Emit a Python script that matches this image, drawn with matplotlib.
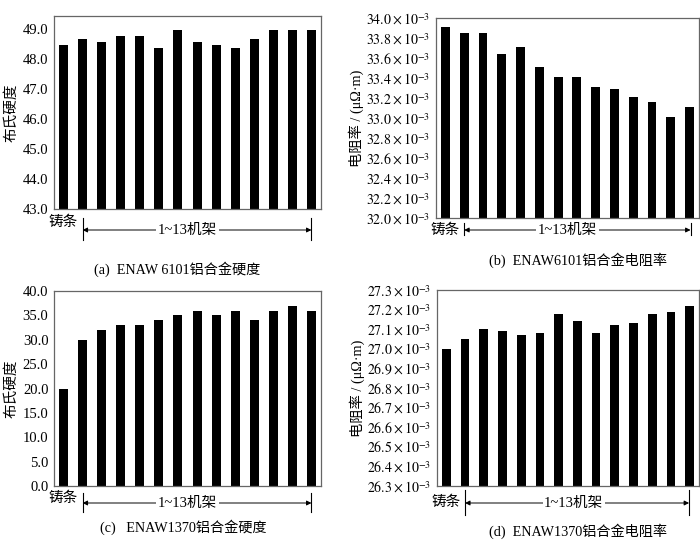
import numpy as np
import matplotlib
matplotlib.use('Agg')
import matplotlib.pyplot as plt
from matplotlib.transforms import blended_transform_factory

plt.rcParams['font.family'] = ['Liberation Serif', 'Noto Sans CJK SC']
plt.rcParams['mathtext.fontset'] = 'stix'
plt.rcParams['font.size'] = 10

# Data
stands = np.arange(14)   # 0 = 铸条, 1..13 = 机架
hard_6101 = [48.45, 48.65, 48.55, 48.75, 48.75, 48.35, 48.95,
             48.55, 48.45, 48.35, 48.65, 48.95, 48.95, 48.95]
res_6101 = [33.91, 33.85, 33.85, 33.64, 33.71, 33.51, 33.41,
            33.41, 33.31, 33.29, 33.21, 33.16, 33.01, 33.11]
hard_1370 = [20.0, 30.0, 32.0, 33.0, 33.0, 34.0, 35.0,
             36.0, 35.0, 36.0, 34.0, 36.0, 37.0, 36.0]
res_1370 = [27.00, 27.05, 27.10, 27.09, 27.07, 27.08, 27.18,
            27.14, 27.08, 27.12, 27.13, 27.18, 27.19, 27.22]

captions = ['(a)  ENAW 6101铝合金硬度', '(b)  ENAW6101铝合金电阻率',
            '(c)   ENAW1370铝合金硬度', '(d)  ENAW1370铝合金电阻率']

W, H = 700, 541
fig = plt.figure(figsize=(W / 100, H / 100), dpi=100)


def px_axes(l, r, t, b):
    return fig.add_axes([l / W, 1 - b / H, (r - l) / W, (b - t) / H])


def style(ax, tsize):
    for s in ax.spines.values():
        s.set_color('#666666')
        s.set_linewidth(0.9)
    ax.tick_params(length=0, pad=4, labelsize=tsize)
    ax.set_xticks([])
    ax.set_xlim(-0.5, 13.5)


def bracket(ax, lab_dy, v_top, v_bot, arr_dy, x_right, x_text):
    hpx = ax.get_position().height * H
    f = lambda dy: -dy / hpx
    tr = blended_transform_factory(ax.transData, ax.transAxes)
    ax.text(0, f(lab_dy), '铸条', transform=tr, ha='center', va='center',
            fontsize=10.5)
    for xv in (1, x_right):
        ax.plot([xv, xv], [f(v_top), f(v_bot)], color='black', lw=0.8,
                transform=tr, clip_on=False)
    ax.annotate('', xy=(x_right, f(arr_dy)), xytext=(1, f(arr_dy)),
                xycoords=tr, textcoords=tr,
                arrowprops=dict(arrowstyle='<|-|>', color='black', lw=0.7,
                                mutation_scale=7, shrinkA=0, shrinkB=0))
    ax.text(x_text, f(arr_dy), '1~13机架', transform=tr, ha='center',
            va='center', fontsize=10.5,
            bbox=dict(facecolor='white', edgecolor='none', pad=1))


def sci(vals):
    return [r'$%.1f\times10^{-3}$' % v for v in vals]


# (a)
ax = px_axes(54, 321, 16, 209)
ax.bar(stands, hard_6101, width=0.47, color='black')
ax.set_ylim(43.0, 49.43)
yt = np.arange(43.0, 49.01, 1.0)
ax.set_yticks(yt)
ax.set_yticklabels(['%.1f' % v for v in yt])
ax.set_ylabel('布氏硬度', labelpad=3, fontsize=10.5)
style(ax, 10.5)
bracket(ax, 13, 9, 31, 21, 13, 6.5)

# (b)
ax = px_axes(436, 699, 18, 218)
ax.bar(stands, res_6101, width=0.47, color='black')
ax.set_ylim(32.0, 34.0)
yt = np.arange(32.0, 34.01, 0.2)
ax.set_yticks(yt)
ax.set_yticklabels(sci(yt))
ax.set_ylabel('电阻率 / (μΩ·m)', labelpad=2, fontsize=10.3)
style(ax, 10)
bracket(ax, 12, 5, 17, 12, 13.05, 6.5)

# (c)
ax = px_axes(54, 321, 291, 486)
ax.bar(stands, hard_1370, width=0.47, color='black')
ax.set_ylim(0.0, 40.0)
yt = np.arange(0.0, 40.01, 5.0)
ax.set_yticks(yt)
ax.set_yticklabels(['%.1f' % v for v in yt])
ax.set_ylabel('布氏硬度', labelpad=3, fontsize=10.5)
style(ax, 10.5)
bracket(ax, 12, 7, 26, 17, 13, 6.5)

# (d)
ax = px_axes(437, 699, 290, 486)
ax.bar(stands, res_1370, width=0.47, color='black')
ax.set_ylim(26.3, 27.3)
yt = np.arange(26.3, 27.301, 0.1)
ax.set_yticks(yt)
ax.set_yticklabels(sci(yt))
ax.set_ylabel('电阻率 / (μΩ·m)', labelpad=2, fontsize=10.3)
style(ax, 10)
bracket(ax, 16, 4, 29, 17, 12.97, 6.8)

# captions
for (cx, cy), txt in zip([(177, 269), (578, 260), (183, 527), (578, 531)],
                         captions):
    fig.text(cx / W, 1 - cy / H, txt, ha='center', va='center', fontsize=10.2)

fig.savefig('out.png', dpi=100)
